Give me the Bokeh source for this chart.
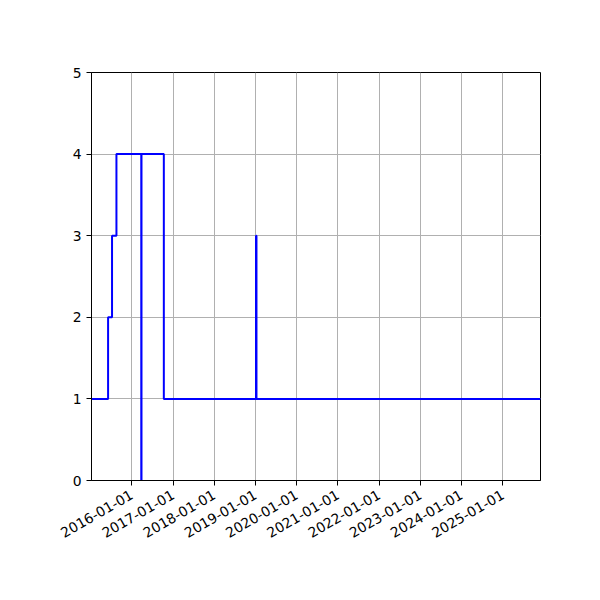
import math
import pandas as pd
from bokeh.plotting import figure
from bokeh.models import FixedTicker, DatetimeTickFormatter, Range1d
from bokeh.embed import file_html
from bokeh.resources import INLINE

# --- data ---
change_dates = ["2015-01-09", "2015-06-05", "2015-07-10", "2015-08-18",
                "2016-03-25", "2016-03-27", "2016-10-11",
                "2019-01-06", "2019-01-10", "2025-12-01"]
values = [1, 2, 3, 4, 0, 4, 1, 3, 1, 1]
tick_years = [2016, 2017, 2018, 2019, 2020, 2021, 2022, 2023, 2024, 2025]
y_ticks = [0, 1, 2, 3, 4, 5]

x = pd.to_datetime(change_dates)

p = figure(x_axis_type="datetime", output_backend="svg", toolbar_location=None,
           frame_width=449, frame_height=408,
           min_border_left=91, min_border_right=52, min_border_top=72, min_border_bottom=104,
           x_range=Range1d(x[0], x[-1]), y_range=Range1d(0, 5),
           background_fill_color="white", border_fill_color="white")

p.step(x, values, mode="after", line_color="blue", line_width=2)

tick_ms = [pd.Timestamp(f"{yr}-01-01").value / 1e6 for yr in tick_years]
p.xaxis.ticker = FixedTicker(ticks=tick_ms)
fmt = "%Y-%m-%d"
p.xaxis.formatter = DatetimeTickFormatter(years=fmt, months=fmt, days=fmt, hours=fmt,
                                          hourmin=fmt, minutes=fmt, minsec=fmt,
                                          seconds=fmt, milliseconds=fmt, microseconds=fmt)
p.xaxis.major_label_orientation = math.pi / 6
p.yaxis.ticker = FixedTicker(ticks=y_ticks)

for ax in (p.xaxis[0], p.yaxis[0]):
    ax.axis_line_color = "black"
    ax.axis_line_width = 1
    ax.major_tick_in = 0
    ax.major_tick_out = 5
    ax.major_tick_line_color = "black"
    ax.minor_tick_line_color = None
    ax.major_label_text_font = "DejaVu Sans"
    ax.major_label_text_font_size = "13.9px"
    ax.major_label_text_color = "black"
    ax.major_label_standoff = 5

p.xaxis.major_label_standoff = 8

p.outline_line_color = "black"
p.outline_line_width = 1
p.outline_line_alpha = 1

for g in (p.xgrid[0], p.ygrid[0]):
    g.grid_line_color = "#b0b0b0"
    g.grid_line_width = 1

open("out.html", "w").write(file_html(p, INLINE))
